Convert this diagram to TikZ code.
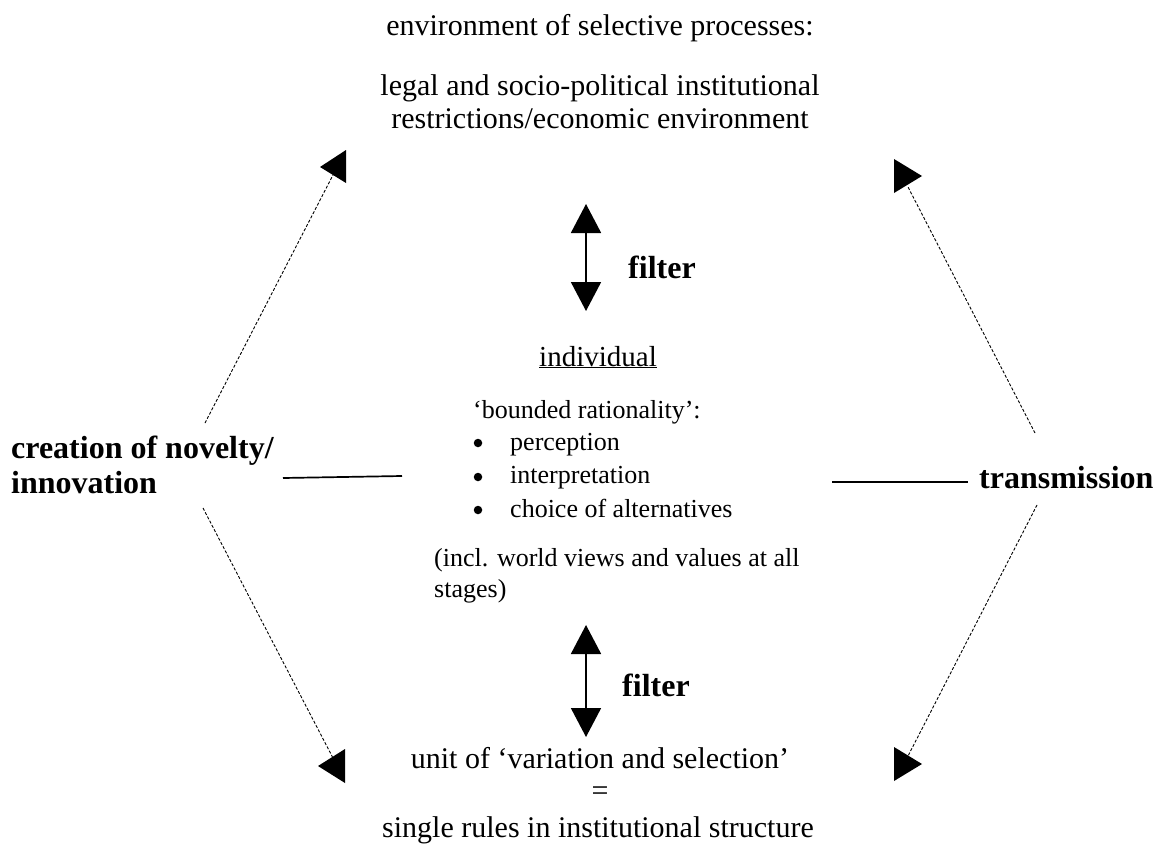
\documentclass[tikz,border=0pt]{standalone}
\usepackage{fontspec}
\setmainfont{Liberation Serif}
\usetikzlibrary{arrows.meta}
\begin{document}
\begin{tikzpicture}[x=1pt,y=-1pt,
  big/.style={font=\fontsize{30}{33}\selectfont, inner sep=0pt, align=center},
  lbl/.style={font=\fontsize{32}{35}\selectfont\bfseries, inner sep=0pt, align=left},
  mid/.style={font=\fontsize{26}{33}\selectfont, inner sep=0pt, anchor=base west},
  dot/.style={circle, fill=black, inner sep=0pt, minimum size=8.5pt},
  dashline/.style={dash pattern=on 3pt off 1.8pt, line width=0.9pt},
  solidline/.style={line width=1.7pt},
  filt/.style={line width=1.8pt, {Triangle[width=30pt,length=29pt]}-{Triangle[width=30pt,length=29pt]}},
  head/.style={fill=black}]
\useasboundingbox (0,0) rectangle (1153,851);
% top texts
\node[big] (env) at (600,28) {environment of selective processes:};
\node[big] (legal) at (600,102) {legal and socio-political institutional\\restrictions/economic environment};
% arrowheads
\fill[head] (346,150) -- (320,167) -- (346,183) -- cycle;
\fill[head] (894,159) -- (922,176) -- (894,193) -- cycle;
\fill[head] (345,749) -- (318,766) -- (345,783) -- cycle;
\fill[head] (894,747) -- (922,764) -- (894,781) -- cycle;
% dashed connectors
\coordinate (tla) at (205,423); \coordinate (tlb) at (333,175);
\coordinate (tra) at (1035,433); \coordinate (trb) at (908,187);
\coordinate (bla) at (203,508); \coordinate (blb) at (333,758);
\coordinate (bra) at (1037,505); \coordinate (brb) at (908,756);
\draw[dashline] (tla) -- (tlb);
\draw[dashline] (tra) -- (trb);
\draw[dashline] (bla) -- (blb);
\draw[dashline] (bra) -- (brb);
% upper filter
\coordinate (fu1) at (586,204); \coordinate (fu2) at (586,311);
\draw[filt] (fu1) -- (fu2);
\node[lbl, anchor=base west] (filt1) at (628,278) {filter};
% individual block
\node[font=\fontsize{29}{33}\selectfont, inner sep=0pt, anchor=base] (ind) at (598,366) {\underline{individual}};
\node[mid] (br) at (473,418) {‘bounded rationality’:};
\node[dot] (b1) at (478,443) {}; \node[mid] (p1) at (510,450) {perception};
\node[dot] (b2) at (478,477) {}; \node[mid] (p2) at (510,483) {interpretation};
\node[dot] (b3) at (478,510) {}; \node[mid] (p3) at (510,517) {choice of alternatives};
\node[mid] (incl) at (434,566) {(incl. world views and values at all};
\node[mid] (stg) at (434,597) {stages)};
% lower filter
\coordinate (fl1) at (586,625); \coordinate (fl2) at (586,737);
\draw[filt] (fl1) -- (fl2);
\node[lbl, anchor=base west] (filt2) at (622,696) {filter};
% bottom texts
\node[big] (unit) at (600,758) {unit of ‘variation and selection’};
\node[big] (eq) at (600,794) {=};
\node[big] (single) at (598,830) {single rules in institutional structure};
% side labels
\node[lbl, anchor=north west] (cre) at (11,436) {creation of novelty/\\innovation};
\node[lbl, anchor=west] (tra) at (979,478) {transmission};
\coordinate (l1) at (283,478); \coordinate (l2) at (402,476);
\draw[solidline] (l1) -- (l2);
\coordinate (r1) at (832,482); \coordinate (r2) at (968,482);
\draw[solidline] (r1) -- (r2);
\end{tikzpicture}
\end{document}
